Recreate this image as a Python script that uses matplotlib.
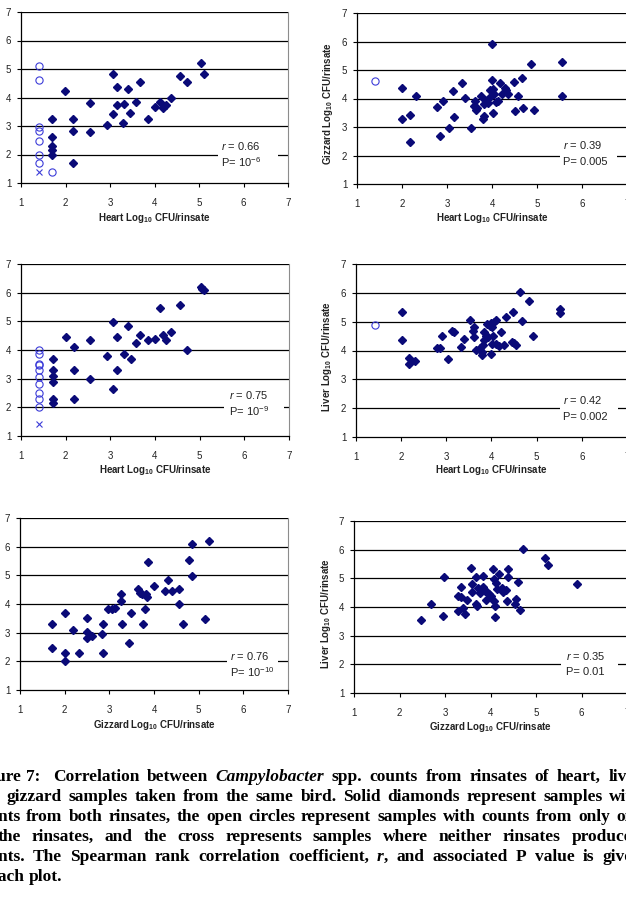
import matplotlib
matplotlib.use("Agg")
import matplotlib.pyplot as plt
from matplotlib.patches import Rectangle

plt.rcParams["font.family"] = "Liberation Sans"
plt.rcParams["mathtext.fontset"] = "custom"
plt.rcParams["mathtext.rm"] = "Liberation Sans"
plt.rcParams["mathtext.it"] = "Liberation Sans:italic"
plt.rcParams["mathtext.bf"] = "Liberation Sans:bold"

W, H = 626, 901
NAVY = "#0a0a78"
BLUE = "#3c3cd8"

# ── data (log10 CFU/rinsate) ─────────────────────────────────────────────────
# panel 1: heart (x) vs y
p1_x = [1.70, 1.70, 1.70, 1.70, 1.70, 1.99, 2.17, 2.17, 2.17, 2.54, 2.54, 2.93,
        3.06, 3.06, 3.16, 3.16, 3.30, 3.32, 3.40, 3.46, 3.59, 3.68, 3.85, 4.00,
        4.12, 4.19, 4.25, 4.37, 4.57, 4.74, 5.04, 5.11]
p1_y = [3.26, 2.60, 2.29, 2.17, 1.98, 4.24, 3.26, 2.84, 1.69, 3.82, 2.80, 3.04,
        4.82, 3.43, 4.38, 3.73, 3.11, 3.78, 4.30, 3.47, 3.83, 4.53, 3.26, 3.67,
        3.84, 3.62, 3.73, 3.98, 4.77, 4.56, 5.21, 4.82]
p1_open_x = [1.40, 1.40, 1.40, 1.40, 1.40, 1.40, 1.40, 1.70]
p1_open_y = [5.12, 4.61, 2.95, 2.84, 2.46, 1.98, 1.69, 1.39]
p1_cross_x = [1.40]
p1_cross_y = [1.39]

# panel 2: heart (x) vs gizzard (y)
p2_x = [2.00, 2.00, 2.18, 2.18, 2.31, 2.78, 2.85, 2.92, 3.04, 3.14, 3.15, 3.34,
        3.40, 3.54, 3.62, 3.61, 3.64, 3.66, 3.75, 3.79, 3.82, 3.82, 3.85, 3.90,
        3.93, 3.95, 3.99, 4.00, 4.02, 4.03, 4.05, 4.09, 4.13, 4.18, 4.22, 4.29,
        4.31, 4.36, 4.48, 4.50, 4.57, 4.66, 4.69, 4.86, 4.93, 5.55, 5.55]
p2_y = [4.38, 3.28, 3.43, 2.46, 4.09, 3.69, 2.68, 3.92, 2.95, 4.27, 3.35, 4.54,
        4.03, 2.96, 3.90, 3.73, 3.58, 3.66, 4.10, 3.29, 3.37, 3.82, 3.94, 3.84,
        4.03, 4.31, 4.66, 5.92, 3.49, 4.33, 4.16, 3.87, 3.91, 4.56, 4.17, 4.38,
        4.31, 4.17, 4.58, 3.57, 4.09, 4.73, 3.68, 5.22, 3.60, 5.28, 4.08]
p2_open_x = [1.39]
p2_open_y = [4.63]

# panel 3: heart (x) vs y
p3_x = [1.71, 1.71, 1.71, 1.71, 1.71, 1.71, 2.01, 2.18, 2.18, 2.18, 2.54, 2.54,
        2.93, 3.06, 3.06, 3.16, 3.16, 3.31, 3.40, 3.46, 3.58, 3.67, 3.84, 3.99,
        4.12, 4.18, 4.24, 4.36, 4.56, 4.72, 5.02, 5.06, 5.10]
p3_y = [3.69, 3.30, 3.09, 2.87, 2.29, 2.16, 4.44, 4.12, 3.29, 2.30, 4.35, 2.98,
        3.80, 4.98, 2.65, 4.47, 3.31, 3.86, 4.84, 3.70, 4.24, 4.53, 4.35, 4.37,
        5.48, 4.53, 4.35, 4.62, 5.56, 4.00, 6.20, 6.14, 6.08]
p3_open_x = [1.40] * 10
p3_open_y = [4.01, 3.85, 3.52, 3.48, 3.31, 3.06, 2.83, 2.50, 2.30, 2.01]
p3_cross_x = [1.40]
p3_cross_y = [1.43]

# panel 4: heart (x) vs liver (y)
p4_x = [2.01, 2.01, 2.18, 2.18, 2.31, 2.79, 2.85, 2.90, 3.04, 3.13, 3.16, 3.32,
        3.39, 3.52, 3.59, 3.61, 3.62, 3.65, 3.74, 3.78, 3.79, 3.81, 3.83, 3.84,
        3.88, 3.91, 3.93, 3.96, 3.98, 3.99, 4.01, 4.01, 4.03, 4.05, 4.09, 4.11,
        4.16, 4.21, 4.27, 4.33, 4.46, 4.48, 4.50, 4.55, 4.64, 4.67, 4.84, 4.91,
        5.52, 5.52]
p4_y = [5.34, 4.35, 3.75, 3.52, 3.64, 4.10, 4.10, 4.49, 3.69, 4.69, 4.65, 4.12,
        4.40, 5.05, 4.68, 4.80, 4.47, 4.02, 4.09, 3.96, 3.83, 4.20, 4.38, 4.63,
        4.51, 4.93, 4.46, 4.84, 3.88, 4.95, 4.80, 4.24, 4.51, 4.99, 5.06, 4.23,
        4.14, 4.63, 4.20, 5.15, 4.29, 5.32, 4.25, 4.20, 6.02, 5.03, 5.71, 4.51,
        5.45, 5.30]
p4_open_x = [1.41]
p4_open_y = [4.87]

# panel 5: gizzard (x) vs y
p5_x = [1.71, 1.71, 2.01, 2.01, 2.01, 2.18, 2.31, 2.49, 2.49, 2.49, 2.62, 2.83,
        2.86, 2.86, 2.96, 3.06, 3.13, 3.27, 3.27, 3.28, 3.44, 3.49, 3.65, 3.69,
        3.74, 3.75, 3.80, 3.81, 3.85, 3.87, 3.99, 4.24, 4.32, 4.40, 4.55, 4.57,
        4.64, 4.79, 4.84, 4.84, 5.14, 5.23]
p5_y = [3.29, 2.47, 3.68, 2.30, 2.00, 3.09, 2.30, 3.51, 3.03, 2.81, 2.88, 2.97,
        3.30, 2.30, 3.81, 3.81, 3.87, 4.35, 4.11, 3.30, 2.65, 3.69, 4.53, 4.39,
        4.36, 3.31, 3.84, 4.34, 4.25, 5.47, 4.62, 4.45, 4.84, 4.47, 4.53, 3.99,
        3.30, 5.55, 6.08, 4.97, 3.48, 6.20]

# panel 6: gizzard (x) vs liver (y)
p6_x = [2.48, 2.69, 2.96, 2.98, 3.28, 3.29, 3.35, 3.35, 3.39, 3.44, 3.49, 3.58,
        3.60, 3.60, 3.69, 3.69, 3.70, 3.73, 3.77, 3.84, 3.84, 3.89, 3.90, 3.93,
        3.97, 4.02, 4.06, 4.07, 4.08, 4.09, 4.09, 4.11, 4.14, 4.18, 4.25, 4.28,
        4.33, 4.36, 4.38, 4.38, 4.53, 4.56, 4.61, 4.65, 4.72, 5.19, 5.27, 5.91]
p6_y = [3.54, 4.11, 3.70, 5.04, 3.86, 4.37, 4.35, 4.69, 3.97, 3.74, 4.26, 5.35,
        4.81, 4.52, 5.06, 4.09, 4.03, 4.68, 4.50, 5.08, 4.69, 4.57, 4.23, 4.52,
        4.45, 4.38, 5.34, 4.21, 4.99, 4.05, 3.65, 4.85, 4.64, 5.16, 4.67, 4.52,
        4.59, 4.21, 5.34, 5.03, 4.12, 4.29, 4.87, 3.89, 6.03, 5.72, 5.45, 4.81]

r_values = ["0.66", "0.39", "0.75", "0.42", "0.76", "0.35"]
p_values = [r"10$^{\mathrm{-6}}$", "0.005", r"10$^{\mathrm{-9}}$", "0.002",
            r"10$^{\mathrm{-10}}$", "0.01"]

HEART = r"Heart Log$_{\mathbf{10}}$ CFU/rinsate"
GIZZ = r"Gizzard Log$_{\mathbf{10}}$ CFU/rinsate"
LIVER = r"Liver Log$_{\mathbf{10}}$ CFU/rinsate"
x_labels = [HEART, HEART, HEART, HEART, GIZZ, GIZZ]
y_labels = [None, GIZZ, None, LIVER, None, LIVER]

caption = [
    [("Figure 7:", -27, None),
     ("Correlation between *Campylobacter* spp. counts from rinsates of heart, liver", 53, 642)],
    [("and gizzard samples taken from the same bird.  Solid diamonds represent samples with", -28, 642)],
    [("counts from both rinsates, the open circles represent samples with counts from only one", -28, 642)],
    [("of the rinsates, and the cross represents samples where neither rinsates produced", -28, 642)],
    [("counts.  The Spearman rank correlation coefficient, *r*, and associated P value is given", -28, 642)],
    [("in each plot.", -28, None)],
]

# ── layout (pixels: left, top, right, bottom) ────────────────────────────────
boxes = [(21, 12, 288, 183), (357, 13, 627, 184),
         (21, 264, 289, 436), (356, 264, 627, 437),
         (20, 518, 288, 690), (354, 521, 627, 693)]
xlab_y = [218, 218, 470, 470, 725, 727]
ylab_pos = [None, (328, 104), None, (327, 356), None, (326, 613)]
note_pos = [(5.50, 2.31, 1.72, 5.43, 6.78), (5.58, 2.36, 1.77, 5.50, 6.78),
            (5.65, 2.44, 1.86, 5.54, 6.88), (5.59, 2.27, 1.68, 5.52, 6.79),
            (5.70, 2.18, 1.64, 5.63, 6.78), (5.67, 2.28, 1.72, 5.54, 6.80)]

panels = [
    (p1_x, p1_y, p1_open_x, p1_open_y, p1_cross_x, p1_cross_y),
    (p2_x, p2_y, p2_open_x, p2_open_y, [], []),
    (p3_x, p3_y, p3_open_x, p3_open_y, p3_cross_x, p3_cross_y),
    (p4_x, p4_y, p4_open_x, p4_open_y, [], []),
    (p5_x, p5_y, [], [], [], []),
    (p6_x, p6_y, [], [], [], []),
]

fig = plt.figure(figsize=(W / 100, H / 100), dpi=100)
fig.patch.set_facecolor("white")

for i, (dx, dy, ox, oy, cx, cy) in enumerate(panels):
    l, t, r, b = boxes[i]
    ax = fig.add_axes([l / W, 1 - b / H, (r - l) / W, (b - t) / H])
    ax.set_xlim(1, 7)
    ax.set_ylim(1, 7)
    ax.set_xticks(range(1, 8))
    ax.set_yticks(range(1, 8))
    ax.tick_params(direction="out", length=3, width=0.8, labelsize=7,
                   labelcolor="#222222", color="black")
    ax.tick_params(axis="x", pad=8)
    ax.tick_params(axis="y", pad=4)
    for yy in range(2, 8):
        ax.axhline(yy, color="black", lw=0.9, zorder=1)
    ax.spines["top"].set_visible(False)
    ax.spines["right"].set_color("#8c8c8c")
    ax.spines["right"].set_linewidth(0.8)
    for s in ("left", "bottom"):
        ax.spines[s].set_color("black")
        ax.spines[s].set_linewidth(0.9)

    tx, ry, py, bx0, bx1 = note_pos[i]
    ax.add_patch(Rectangle((bx0, 1.45), bx1 - bx0, 1.1, facecolor="white",
                           edgecolor="none", zorder=2))
    ax.text(tx, ry, r"$\mathit{r}$ = " + r_values[i], fontsize=8,
            va="center", ha="left", color="#222222", zorder=3)
    ax.text(tx, py, "P= " + p_values[i], fontsize=8, va="center",
            ha="left", color="#222222", zorder=3)

    ax.plot(dx, dy, "D", ms=4.3, color=NAVY, mec=NAVY, ls="none", zorder=5)
    if ox:
        ax.plot(ox, oy, "o", ms=5.2, mfc="none", mec=BLUE, mew=0.8,
                ls="none", zorder=5)
    if cx:
        ax.plot(cx, cy, "x", ms=4.5, color=BLUE, mew=0.8, ls="none", zorder=5)

    fig.text((l + r) / 2, H - xlab_y[i], x_labels[i], transform=None,
             ha="center", va="center", fontsize=7, fontweight="bold",
             color="#222222")
    if y_labels[i]:
        yx, yy = ylab_pos[i]
        fig.text(yx, H - yy, y_labels[i], transform=None, rotation=90,
                 ha="center", va="center", fontsize=7, fontweight="bold",
                 color="#222222")

# ── caption: word by word so lines are justified like the page ───────────────
fig.canvas.draw()
ren = fig.canvas.get_renderer()
CAP_FONT = dict(fontsize=12.5, fontweight="bold", family="Liberation Serif",
                color="black", va="baseline", ha="left", transform=None)


def make_word(word):
    parts = word.split("*")
    arts = []
    for k, part in enumerate(parts):
        if part:
            arts.append(fig.text(0, 0, part, style="italic" if k % 2 else "normal",
                                 **CAP_FONT))
    widths = [a.get_window_extent(ren).width for a in arts]
    return arts, widths


space = fig.text(0, 0, "a a", **CAP_FONT)
w_space = space.get_window_extent(ren).width
a_only = fig.text(0, 0, "aa", **CAP_FONT)
w_space -= a_only.get_window_extent(ren).width
space.remove()
a_only.remove()

for n, line in enumerate(caption):
    base = H - (781 + 20 * n)
    for text, x0, x1 in line:
        words = [make_word(w) for w in text.split()]
        total = sum(sum(ws) for _, ws in words)
        if x1 is None or len(words) < 2:
            gap = w_space
        else:
            gap = max((x1 - x0 - total) / (len(words) - 1), 2)
        x = x0
        for arts, ws in words:
            for a, wd in zip(arts, ws):
                a.set_position((x, base))
                x += wd
            x += gap

fig.savefig("out.png", dpi=100, facecolor="white")
